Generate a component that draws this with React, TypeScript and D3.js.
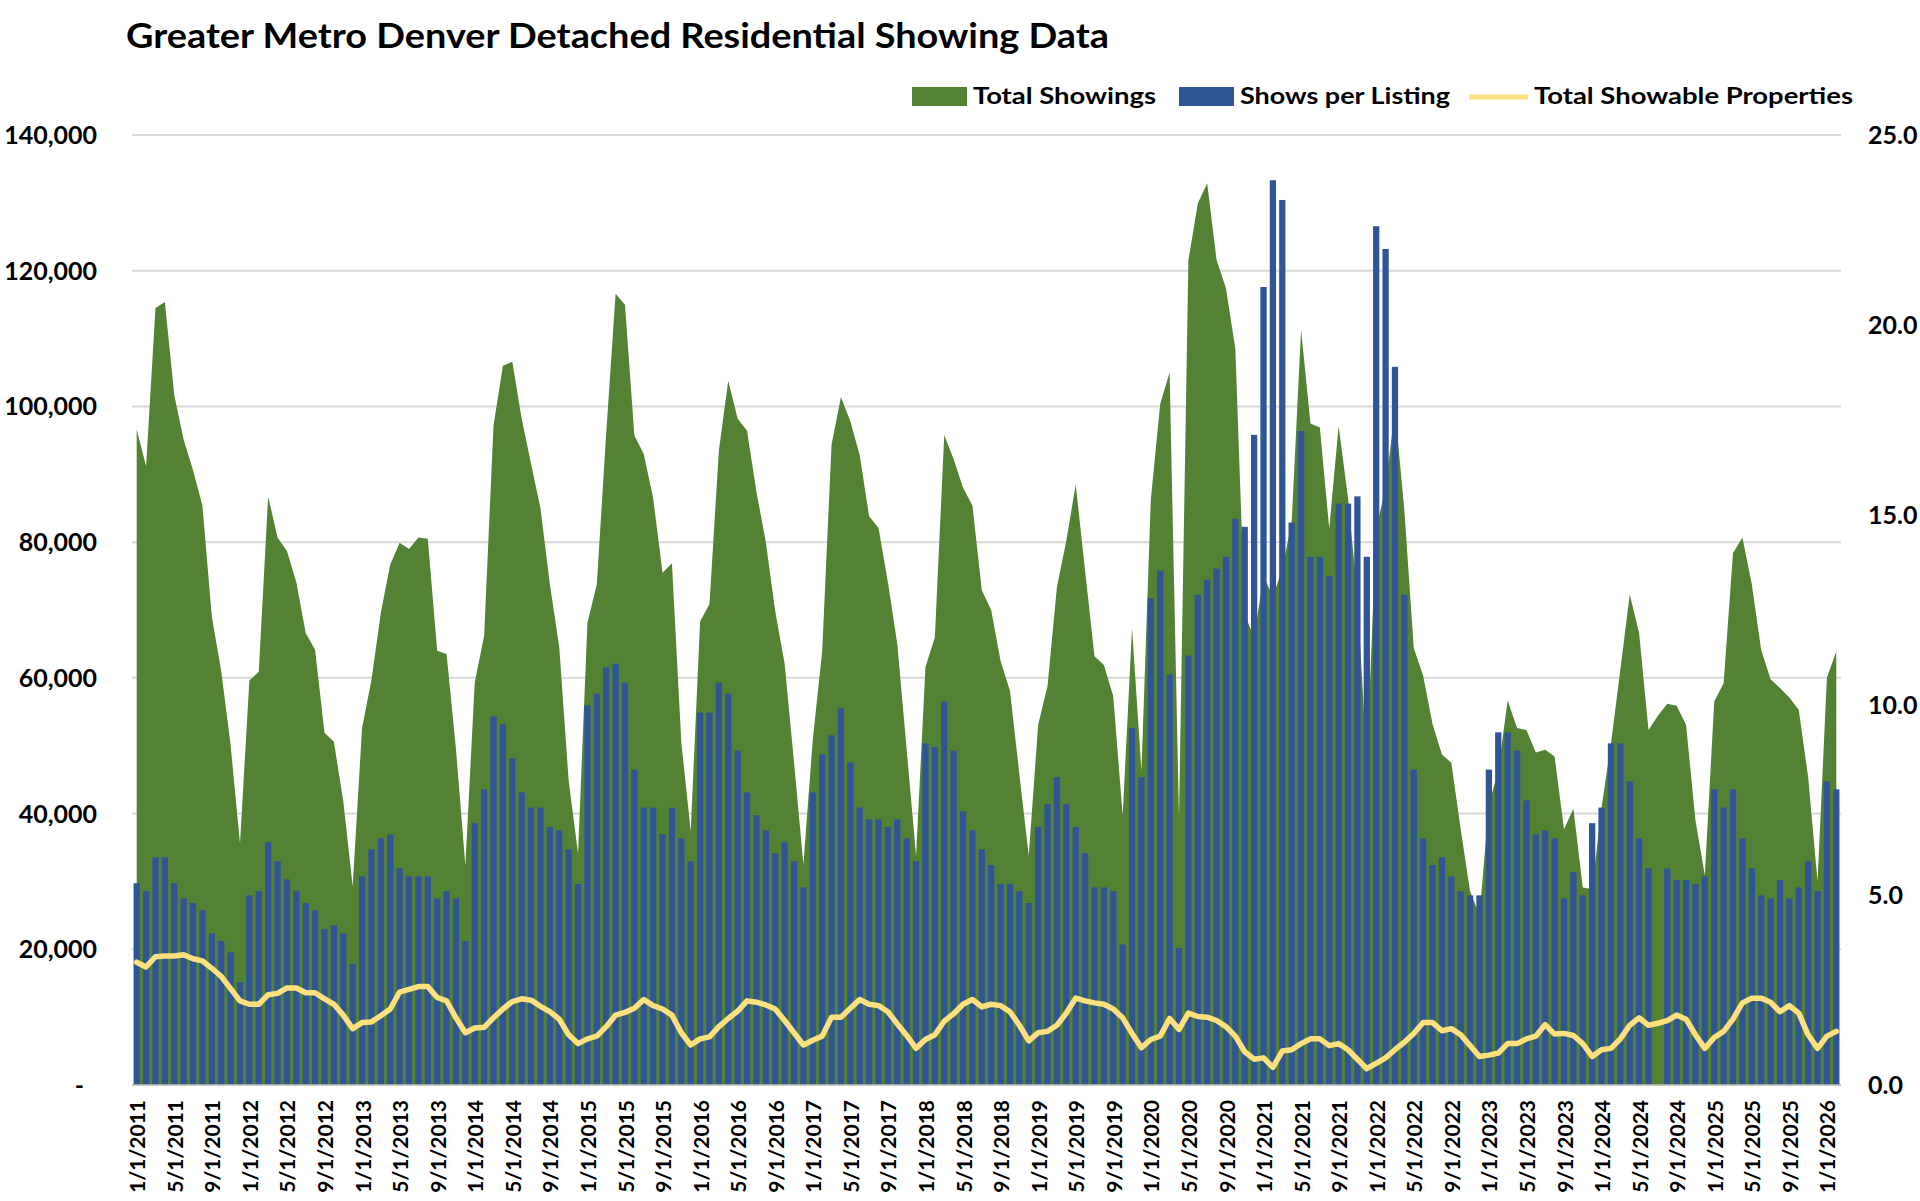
import React from "react";
import * as d3 from "d3";

const title = "Greater Metro Denver Detached Residential Showing Data";

// Monthly categories: Jan 2011 .. Feb 2026
const startYear = 2011;
const monthCount = 182;
const categories: string[] = Array.from({ length: monthCount }, (_, i) => {
  const m = (i % 12) + 1;
  const y = startYear + Math.floor(i / 12);
  return `${m}/1/${y}`;
});
const tickEvery = 4;

const leftTicks = [0, 20000, 40000, 60000, 80000, 100000, 120000, 140000];
const rightTicks = [0, 5, 10, 15, 20, 25];

// Total Showings (left axis, green area)
const totalShowings: number[] = [
  96600, 91200, 114500, 115400, 101700, 95100, 90600, 85400, 69000, 61000, 50100, 35600,
  59600, 60900, 86700, 80700, 78700, 74100, 66600, 64100, 51900, 50600, 41800, 29300,
  52600, 59700, 69600, 76700, 79900, 79000, 80700, 80500, 64000, 63500, 49500, 32400,
  59300, 66200, 97200, 106000, 106600, 98200, 91500, 85000, 73800, 64500, 44900, 34100,
  68100, 73800, 96000, 116600, 115000, 95700, 93000, 86500, 75500, 76900, 50500, 37400,
  68300, 70900, 93500, 103800, 98200, 96400, 87400, 80000, 69800, 62100, 47600, 32500,
  50900, 63900, 94400, 101400, 97800, 92800, 83800, 82100, 74100, 65000, 49400, 33800,
  61600, 66000, 95800, 92200, 88000, 85400, 72900, 70000, 62500, 58100, 45800, 33800,
  53100, 58800, 73400, 80200, 88500, 75800, 63200, 61900, 57300, 39700, 67300, 46300,
  86300, 100400, 105000, 39500, 121500, 129900, 132900, 121600, 117400, 108500, 69300, 66000,
  75000, 72000, 76000, 83000, 111300, 97500, 96900, 82000, 97100, 86500, 72000, 47600,
  82000, 88000, 99600, 84700, 64400, 60300, 53200, 48700, 47500, 37700, 28500, 25000,
  41300, 46300, 56700, 52600, 52300, 49000, 49400, 48400, 37700, 40700, 29100, 28900,
  40900, 50300, 61200, 72300, 66600, 52300, 54400, 56200, 55900, 53100, 39000, 30900,
  56500, 59200, 78400, 80700, 73800, 64100, 59800, 58500, 57100, 55300, 45400, 30000,
  60000, 63900,
];

// Shows per Listing (right axis, blue bars)
const showsPerListing: (number | null)[] = [
  5.31, 5.1, 5.99, 5.99, 5.31, 4.91, 4.79, 4.6, 3.99, 3.79, 3.49, 2.7,
  4.99, 5.1, 6.39, 5.89, 5.41, 5.1, 4.79, 4.6, 4.1, 4.2, 3.99, 3.18,
  5.49, 6.2, 6.49, 6.59, 5.7, 5.49, 5.49, 5.49, 4.91, 5.1, 4.91, 3.79,
  6.89, 7.78, 9.7, 9.49, 8.6, 7.7, 7.3, 7.3, 6.79, 6.7, 6.2, 5.29,
  9.99, 10.3, 10.99, 11.09, 10.59, 8.3, 7.3, 7.3, 6.6, 7.3, 6.49, 5.89,
  9.8, 9.8, 10.59, 10.3, 8.8, 7.7, 7.1, 6.7, 6.1, 6.39, 5.89, 5.2,
  7.7, 8.7, 9.2, 9.91, 8.49, 7.3, 6.99, 6.99, 6.79, 6.99, 6.49, 5.89,
  8.99, 8.89, 10.09, 8.8, 7.2, 6.7, 6.2, 5.79, 5.29, 5.29, 5.1, 4.79,
  6.79, 7.39, 8.1, 7.39, 6.79, 6.1, 5.2, 5.2, 5.1, 3.7, 9.39, 8.1,
  12.81, 13.53, 10.8, 3.6, 11.3, 12.9, 13.3, 13.59, 13.9, 14.9, 14.69, 17.11,
  21.0, 23.81, 23.29, 14.8, 17.21, 13.9, 13.9, 13.4, 15.3, 15.3, 15.49, 13.9,
  22.6, 22.0, 18.9, 12.9, 8.3, 6.49, 5.79, 5.99, 5.49, 5.1, 4.99, 4.99,
  8.3, 9.28, 9.28, 8.8, 7.49, 6.6, 6.7, 6.49, 4.91, 5.6, 4.99, 6.89,
  7.3, 8.99, 8.99, 7.99, 6.49, 5.7, null, 5.7, 5.39, 5.39, 5.29, 5.49,
  7.78, 7.3, 7.78, 6.49, 5.7, 4.99, 4.91, 5.39, 4.91, 5.2, 5.89, 5.1,
  7.99, 7.78,
];

// Total Showable Properties (left axis, yellow line)
const totalShowable: number[] = [
  18100, 17400, 18900, 19000, 19000, 19200, 18600, 18300, 17200, 16000, 14200, 12400,
  11900, 11900, 13300, 13500, 14300, 14300, 13600, 13600, 12700, 11900, 10300, 8300,
  9200, 9300, 10200, 11200, 13700, 14100, 14500, 14500, 12900, 12400, 9900, 7700,
  8400, 8500, 9900, 11200, 12300, 12700, 12500, 11600, 10800, 9700, 7400, 6100,
  6800, 7200, 8600, 10300, 10700, 11300, 12600, 11700, 11200, 10300, 7700, 5900,
  6800, 7100, 8600, 9800, 10900, 12400, 12200, 11800, 11200, 9500, 7700, 5900,
  6600, 7200, 10000, 10000, 11300, 12600, 11900, 11700, 10800, 9000, 7300, 5400,
  6700, 7400, 9400, 10500, 11900, 12600, 11500, 11900, 11700, 10800, 8800, 6500,
  7700, 7900, 8800, 10600, 12800, 12400, 12100, 11900, 11200, 9900, 7600, 5500,
  6700, 7200, 9800, 8200, 10600, 10100, 10000, 9500, 8600, 7200, 4900, 3800,
  4000, 2600, 5000, 5200, 6100, 6800, 6800, 5800, 6100, 5200, 3800, 2400,
  3200, 4000, 5200, 6300, 7600, 9200, 9200, 8000, 8300, 7400, 5800, 4200,
  4400, 4700, 6100, 6100, 6800, 7200, 8900, 7500, 7600, 7300, 6100, 4200,
  5200, 5400, 6800, 8800, 9900, 8800, 9100, 9500, 10300, 9700, 7400, 5400,
  7000, 7900, 9700, 12100, 12800, 12800, 12200, 10800, 11700, 10600, 7400, 5400,
  7200, 7900,
];

const seriesNames = ["Total Showings", "Shows per Listing", "Total Showable Properties"];
const colors = { green: "#548235", blue: "#2F5597", yellow: "#FFE07F", grid: "#D9D9D9" };

const FONT = "Lato, 'Open Sans', 'DejaVu Sans', sans-serif";

export default function App() {
  const W = 1920;
  const H = 1201;
  const left = 132;
  const right = 1841;
  const top = 135;
  const bottom = 1085;

  const idx = categories.map((_, i) => i);
  const x = d3.scaleBand<number>().domain(idx).range([left, right]).paddingInner(0).paddingOuter(0);
  const bw = x.bandwidth();
  const cx = (i: number) => (x(i) as number) + bw / 2;
  const yL = d3.scaleLinear().domain([0, 140000]).range([bottom, top]);
  const yR = d3.scaleLinear().domain([0, 25]).range([bottom, top]);
  const barW = bw / 1.5;

  const areaPath =
    d3
      .area<number>()
      .x((_, i) => cx(i))
      .y0(yL(0))
      .y1((d) => yL(d))(totalShowings) || "";

  const linePath =
    d3
      .line<number>()
      .x((_, i) => cx(i))
      .y((d) => yL(d))(totalShowable) || "";

  const fmt = d3.format(",");

  return (
    <svg
      width={W}
      height={H}
      style={{ position: "absolute", left: 0, top: 0, background: "#fff" }}
      fontFamily={FONT}
    >
      <rect x={0} y={0} width={W} height={H} fill="#fff" />
      <text x={126} y={48} fontSize={35} fontWeight={700} fill="#000" textLength={983} lengthAdjust="spacingAndGlyphs">
        {title}
      </text>

      {/* legend */}
      <g fontSize={23} fontWeight={700} fill="#000">
        <rect x={912} y={87} width={55} height={19} fill={colors.green} />
        <text x={973} y={104} textLength={183} lengthAdjust="spacingAndGlyphs">{seriesNames[0]}</text>
        <rect x={1179} y={87} width={55} height={19} fill={colors.blue} />
        <text x={1240} y={104} textLength={210} lengthAdjust="spacingAndGlyphs">{seriesNames[1]}</text>
        <line x1={1469} x2={1528} y1={97} y2={97} stroke={colors.yellow} strokeWidth={5} />
        <text x={1534} y={104} textLength={319} lengthAdjust="spacingAndGlyphs">{seriesNames[2]}</text>
      </g>

      {/* gridlines */}
      {leftTicks.map((t) => (
        <line key={"g" + t} x1={left} x2={right} y1={yL(t)} y2={yL(t)} stroke={colors.grid} strokeWidth={2} />
      ))}

      {/* area */}
      <path d={areaPath} fill={colors.green} />

      {/* bars */}
      {showsPerListing.map((v, i) =>
        v == null ? null : (
          <rect
            key={"b" + i}
            x={(x(i) as number) + (bw - barW) / 2}
            y={yR(v)}
            width={barW}
            height={yR(0) - yR(v)}
            fill={colors.blue}
          />
        )
      )}

      {/* line */}
      <path d={linePath} fill="none" stroke={colors.yellow} strokeWidth={5.5} strokeLinejoin="round" strokeLinecap="round" />

      {/* bottom axis */}
      <line x1={left} x2={right} y1={bottom} y2={bottom} stroke="#BFBFBF" strokeWidth={1.5} />

      {/* left axis labels */}
      <g fontSize={25} fontWeight={700} fill="#000">
        {leftTicks.map((t) => (
          <text key={"l" + t} x={t === 0 ? 84 : 97} y={yL(t) + 9} textAnchor="end">
            {t === 0 ? "-" : fmt(t)}
          </text>
        ))}
      </g>

      {/* right axis labels */}
      <g fontSize={25} fontWeight={700} fill="#000">
        {rightTicks.map((t) => (
          <text key={"r" + t} x={1868} y={yR(t) + 9} textAnchor="start">
            {t.toFixed(1)}
          </text>
        ))}
      </g>

      {/* x axis labels */}
      <g fontSize={21} fontWeight={700} fill="#000">
        {categories.map((c, i) =>
          i % tickEvery === 0 ? (
            <text
              key={"x" + i}
              transform={`translate(${cx(i) + 1},1100) rotate(-90)`}
              textAnchor="end"
              dy="0.36em"
            >
              {c}
            </text>
          ) : null
        )}
      </g>
    </svg>
  );
}
